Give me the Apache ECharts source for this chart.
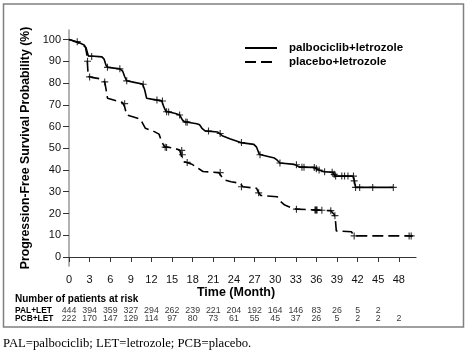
<!DOCTYPE html>
<html><head><meta charset="utf-8">
<script src="https://cdn.jsdelivr.net/npm/echarts@6/dist/echarts.min.js"></script>
<style>html,body{margin:0;padding:0;background:#fff}#c{width:472px;height:357px}</style>
</head><body><div id="c"></div>
<script>
// Kaplan-Meier paths (month, % progression-free)
const palT = [0,0.5,1.5,2.2,2.5,2.8,3.0,4.8,5.1,5.4,5.7,7.4,7.8,8.1,8.4,9.5,10.7,11.0,11.3,12.0,13.5,13.8,14.1,15.5,16.1,16.5,16.8,18.6,19.0,19.4,19.8,21.6,22.3,23.4,25.0,26.9,27.3,27.7,28.2,29.9,30.3,30.7,32.8,33.6,35.7,36.3,37.2,38.4,38.7,41.3,41.5,41.7,47.2];
const palS = [100,99.5,98.5,97.5,96,92.5,92.3,92,91,88,87.2,86.5,85.5,83,81,80.3,79.5,77,73,72.6,71.8,69,67,66,65.3,63,62.2,61.3,60.8,59,58,57.5,55.8,54.4,52.6,51.8,50.5,47.2,46.8,45.5,44.5,43.2,42.6,41.3,41.2,40,39.2,39,37.2,37.2,35.4,32,32];
const pcbT = [0,1,2,2.4,2.6,2.7,2.8,3.3,4.4,4.9,5.2,5.4,5.6,6.5,7.8,8.1,8.4,9.4,10.4,10.8,11.1,12.2,13.1,13.5,13.9,15.3,16.1,16.4,16.8,17.8,18.7,19.5,21.8,22.2,22.6,23.6,24.9,25.3,27.3,27.6,27.9,30.3,30.8,31.4,32.4,33.1,35.9,38.1,38.6,38.8,38.9,41.1,41.5,50];
const pcbS = [100,99,97.5,96.5,93,88,83,82.6,82,81.2,80.5,77,73,72.2,71,69,65.3,64.4,63.3,61,59.2,58,56.5,53,50.7,50,49.2,46,43.8,42.8,41,39.3,38.8,37,35.4,34.6,33.9,32.3,31.6,29.5,28.3,27.7,25.5,23.9,22.6,22,21.6,21.3,19.5,16,12,11.6,9.7,9.7];
// censored observations
const palCensT = [1.2,3.3,5.6,7.4,8.4,10.8,12.8,13.6,14.2,14.5,16.1,17.0,17.2,20.3,22.0,25.1,27.8,30.7,33.1,33.9,34.2,35.7,36.0,36.4,37.2,38.3,38.6,38.8,39.7,40.1,40.6,41.4,41.5,41.7,42.3,44.2,47.2];
const palCensS = [99,92.2,87.2,86.5,81,79.4,72.2,71.7,66.8,66.7,65.3,62.1,62,57.9,56.8,52.6,47,43.2,42.4,41.3,41.3,41.2,40.6,40,39.2,39,38,37.2,37.2,37.2,37.2,37.2,35,32,32,32,32];
const pcbCensT = [2.7,3.0,5.2,8.1,14.0,14.2,16.4,16.5,17.2,22.0,25.1,27.6,33.1,35.8,35.9,36.0,36.1,36.8,38.1,38.7,41.5,49.5,49.8];
const pcbCensS = [90,82.8,80.5,70.5,50.5,50.4,49,47,43.5,38.8,32.3,29.5,22,21.6,21.6,21.6,21.6,21.5,21.3,19,9.7,9.7,9.7];
// axis ticks
const xTicks = [0,3,6,9,12,15,18,21,24,27,30,33,36,39,42,45,48];
const yTicks = [0,10,20,30,40,50,60,70,80,90,100];
// number at risk
const riskRows = ['PAL+LET','PCB+LET'];
const riskMonths = [0,3,6,9,12,15,18,21,24,27,30,33,36,39,42,45,48];
const palRisk = [444,394,359,327,294,262,239,221,204,192,164,146,83,26,5,2];
const pcbRisk = [222,170,147,129,114,97,80,73,61,55,45,37,26,5,2,2,2];
const seriesNames = ['palbociclib+letrozole','placebo+letrozole'];

const zip=(a,b)=>a.map((v,i)=>[v,b[i]]);
const F='"Liberation Sans", Arial, sans-serif';
const plus='path://M0.42,0H0.58V0.42H1V0.58H0.58V1H0.42V0.58H0V0.42H0.42Z';
const chart=echarts.init(document.getElementById('c'),null,{renderer:'canvas'});
chart.setOption({
  animation:false,
  backgroundColor:'#fff',
  grid:[{left:69,right:56,top:30,bottom:91},{left:69,right:56,top:307,height:15.2}],
  xAxis:[
    {type:'value',gridIndex:0,min:0,max:50.5,splitLine:{show:false},
     axisLine:{lineStyle:{color:'#333',width:1.2}},
     axisTick:{length:5,customValues:xTicks,lineStyle:{color:'#333'}},
     axisLabel:{customValues:xTicks,margin:8,fontSize:11,color:'#111',fontFamily:F}},
    {type:'value',gridIndex:1,min:0,max:50.5,show:false}
  ],
  yAxis:[
    {type:'value',gridIndex:0,min:-4.14,max:104.37,splitLine:{show:false},
     axisLine:{show:true,lineStyle:{color:'#999',width:1.5}},
     axisTick:{show:true,length:6,customValues:yTicks,lineStyle:{color:'#333'}},
     axisLabel:{customValues:yTicks,margin:8,fontSize:11,color:'#111',fontFamily:F},
     name:'Progression-Free Survival Probability (%)',nameLocation:'middle',nameGap:28,
     nameTextStyle:{fontWeight:'bold',fontSize:12.3,fontFamily:F,color:'#000'}},
    {type:'category',gridIndex:1,inverse:true,data:riskRows,
     axisLine:{show:false},axisTick:{show:false},
     axisLabel:{interval:0,align:'left',margin:54,fontWeight:'bold',fontSize:8.4,fontFamily:F,color:'#000'}}
  ],
  legend:{data:seriesNames,orient:'vertical',left:239,top:37,itemWidth:32,itemHeight:14,itemGap:2,
    itemStyle:{opacity:0},
    textStyle:{fontWeight:'bold',fontSize:11.5,fontFamily:F,color:'#000',padding:[0,0,0,7]}},
  series:[
    {name:seriesNames[0],type:'line',data:zip(palT,palS),symbol:'none',smooth:false,
     lineStyle:{color:'#000',width:1.6},itemStyle:{color:'#000'},z:3},
    {name:seriesNames[1],type:'line',data:zip(pcbT,pcbS),symbol:'none',smooth:false,
     lineStyle:{color:'#000',width:1.6,type:[11,5]},itemStyle:{color:'#000'},z:3},
    {type:'scatter',data:zip(palCensT,palCensS),symbol:plus,symbolSize:7,itemStyle:{color:'#000'},z:4},
    {type:'scatter',data:zip(pcbCensT,pcbCensS),symbol:plus,symbolSize:7,itemStyle:{color:'#000'},z:4},
    {type:'scatter',xAxisIndex:1,yAxisIndex:1,symbolSize:1,itemStyle:{color:'transparent'},
     data:palRisk.map((n,i)=>[riskMonths[i],riskRows[0],n]),
     label:{show:true,position:'inside',formatter:p=>p.value[2],fontSize:8.8,fontFamily:F,color:'#000'}},
    {type:'scatter',xAxisIndex:1,yAxisIndex:1,symbolSize:1,itemStyle:{color:'transparent'},
     data:pcbRisk.map((n,i)=>[riskMonths[i],riskRows[1],n]),
     label:{show:true,position:'inside',formatter:p=>p.value[2],fontSize:8.8,fontFamily:F,color:'#000'}}
  ],
  graphic:[
    {type:'rect',silent:true,z:-1,shape:{x:3.5,y:4,width:460,height:323},style:{fill:'none',stroke:'#808080',lineWidth:1.5}},
    {type:'text',x:236,y:293,style:{text:'Time (Month)',fontWeight:'bold',fontSize:12.5,fontFamily:F,fill:'#000',align:'center',verticalAlign:'middle'}},
    {type:'text',x:15,y:299.5,style:{text:'Number of patients at risk',fontWeight:'bold',fontSize:10,fontFamily:F,fill:'#000',align:'left',verticalAlign:'middle'}},
    {type:'text',x:3,y:344,style:{text:'PAL=palbociclib; LET=letrozole; PCB=placebo.',fontSize:12.7,fontFamily:'"Liberation Serif", "Times New Roman", serif',fill:'#000',align:'left',verticalAlign:'middle'}}
  ]
});
</script></body></html>
